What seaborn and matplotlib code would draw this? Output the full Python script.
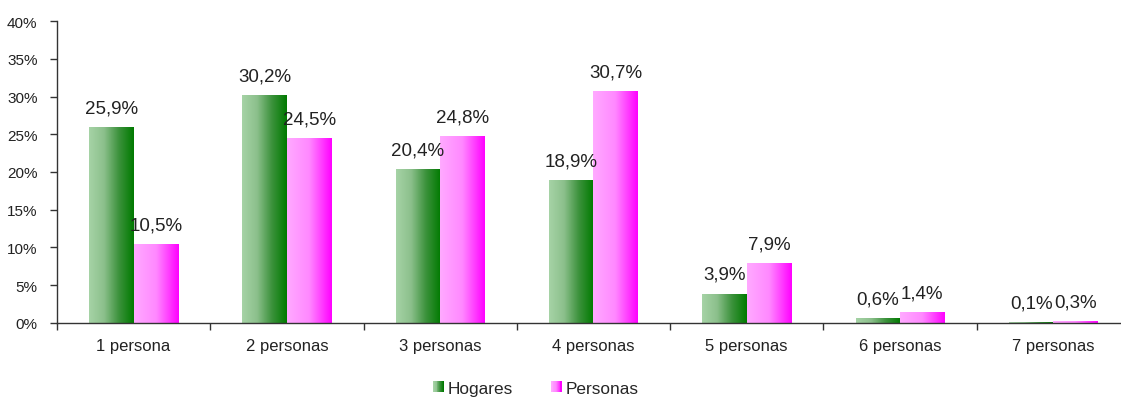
import numpy as np
import pandas as pd
import matplotlib
matplotlib.use("Agg")
import matplotlib.pyplot as plt
from matplotlib.colors import LinearSegmentedColormap
from matplotlib.patches import Patch, Rectangle
from matplotlib.legend_handler import HandlerBase
import seaborn as sns

categories = ["1 persona", "2 personas", "3 personas", "4 personas", "5 personas", "6 personas", "7 personas"]
hogares = [25.9, 30.2, 20.4, 18.9, 3.9, 0.6, 0.1]
personas = [10.5, 24.5, 24.8, 30.7, 7.9, 1.4, 0.3]
series_names = ["Hogares", "Personas"]
y_ticks = [0, 5, 10, 15, 20, 25, 30, 35, 40]

sns.set_theme(style="white")
plt.rcParams['font.family'] = ['Liberation Sans', 'DejaVu Sans']

df = pd.DataFrame({
    "cat": categories * 2,
    "serie": [series_names[0]] * len(categories) + [series_names[1]] * len(categories),
    "val": hogares + personas,
})

fig = plt.figure(figsize=(11.21, 4.06), dpi=100)
ax = fig.add_axes([0.0508, 0.202, 0.9572, 0.7438])

colors_solid = {"Hogares": "#4f9f4f", "Personas": "#ff55ff"}
sns.barplot(data=df, x="cat", y="val", hue="serie", order=categories, hue_order=series_names,
            palette=colors_solid, width=0.58, ax=ax, legend=False, linewidth=0, errorbar=None)

cmaps = {
    "Hogares": LinearSegmentedColormap.from_list("g", ["#a6d3a6", "#8cc08c", "#3c923c", "#007a00"]),
    "Personas": LinearSegmentedColormap.from_list("p", ["#ffaaff", "#ff88ff", "#ff00ff"]),
}
grad = np.linspace(0, 1, 256).reshape(1, -1)

patches = list(ax.patches)
n = len(categories)
for i, p in enumerate(patches[:2 * n]):
    serie = series_names[i // n]
    x0, y0 = p.get_x(), p.get_y()
    w, h = p.get_width(), p.get_height()
    p.set_facecolor("none")
    if h <= 0:
        continue
    im = ax.imshow(grad, cmap=cmaps[serie], aspect="auto", extent=(x0, x0 + w, y0, y0 + h),
                   interpolation="bicubic", zorder=2)
    im.set_clip_path(p)
    val = df["val"].iloc[i]
    ax.text(x0 + w / 2, y0 + h + 1.4, f"{val:.1f}".replace(".", ",") + "%",
            ha="center", va="bottom", fontsize=13.5, color="#222222")

ax.set_xlim(-0.5, n - 0.5)
ax.set_ylim(0, 40)
ax.set_yticks(y_ticks)
ax.set_yticklabels([f"{t}%" for t in y_ticks], fontsize=11, color="#222222")
ax.set_xticks(range(n))
ax.set_xticklabels(categories, fontsize=12, color="#222222")
ax.set_xticks(np.arange(-0.5, n, 1), minor=True)
ax.tick_params(axis="x", which="major", length=0, pad=11)
ax.tick_params(axis="x", which="minor", length=5, width=1, color="#333333", direction="out", bottom=True)
ax.tick_params(axis="y", length=5, width=1, color="#333333", direction="out", left=True, pad=9)
ax.set_xlabel("")
ax.set_ylabel("")
for s in ["top", "right"]:
    ax.spines[s].set_visible(False)
for s in ["left", "bottom"]:
    ax.spines[s].set_color("#333333")
    ax.spines[s].set_linewidth(1)


class GradHandler(HandlerBase):
    def __init__(self, cmap):
        super().__init__()
        self.cmap = cmap

    def create_artists(self, legend, orig_handle, xdescent, ydescent, width, height, fontsize, trans):
        arts = []
        k = 12
        for j in range(k):
            r = Rectangle((-xdescent + width * j / k, -ydescent), width / k + 0.3, height,
                          facecolor=self.cmap(j / (k - 1)), edgecolor="none", transform=trans)
            arts.append(r)
        return arts


h1 = Patch(facecolor="#4f9f4f", label="Hogares")
h2 = Patch(facecolor="#ff66ff", label="Personas")
fig.legend(handles=[h1, h2], loc="lower center", bbox_to_anchor=(0.478, -0.015), ncol=2, frameon=False,
           fontsize=12.4, handlelength=0.6, handleheight=0.65, handletextpad=0.25, columnspacing=2.2,
           handler_map={h1: GradHandler(cmaps["Hogares"]), h2: GradHandler(cmaps["Personas"])})

fig.savefig("out.png", dpi=100)
